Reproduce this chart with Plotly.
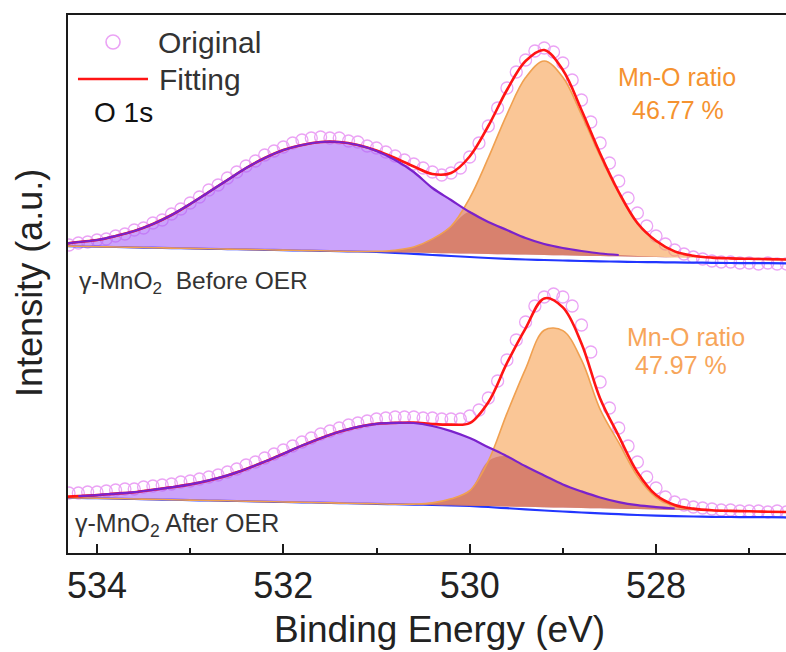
import numpy as np
import plotly.graph_objects as go

# ---- binding energy grids (eV) ----
energy = [
    534.4, 534.3, 534.2, 534.1, 534.0, 533.9, 533.8, 533.7, 533.6, 533.5,
    533.4, 533.3, 533.2, 533.1, 533.0, 532.9, 532.8, 532.7, 532.6, 532.5,
    532.4, 532.3, 532.2, 532.1, 532.0, 531.9, 531.8, 531.7, 531.6, 531.5,
    531.4, 531.3, 531.2, 531.1, 531.0, 530.9, 530.8, 530.7, 530.6, 530.5,
    530.4, 530.3, 530.2, 530.1, 530.0, 529.9, 529.8, 529.7, 529.6, 529.5,
    529.4, 529.3, 529.2, 529.1, 529.0, 528.9, 528.8, 528.7, 528.6, 528.5,
    528.4, 528.3, 528.2, 528.1, 528.0, 527.9, 527.8, 527.7, 527.6, 527.5,
    527.4, 527.3, 527.2, 527.1, 527.0, 526.9, 526.8, 526.7, 526.6,
]
# fitted curves are sampled every 0.2 eV (every other raw point)
energy_fit = energy[::2]

# ---- gamma-MnO2 before OER (offset spectrum, a.u.) ----
before_raw = [
    30.7, 30.8, 31.0, 31.1, 31.3, 31.4, 31.7, 31.9, 32.3, 32.5,
    33.0, 33.3, 33.9, 34.4, 35.0, 35.6, 36.3, 36.8, 37.5, 38.1,
    38.7, 39.2, 39.8, 40.2, 40.6, 41.0, 41.3, 41.5, 41.6, 41.5,
    41.5, 41.2, 41.1, 40.7, 40.5, 40.1, 39.7, 39.3, 38.9, 38.5,
    38.1, 37.8, 38.0, 38.5, 39.6, 41.0, 42.7, 44.5, 46.5, 48.1,
    49.3, 50.2, 50.5, 50.1, 49.0, 47.3, 45.3, 43.1, 41.0, 39.0,
    37.2, 35.5, 34.0, 32.7, 31.7, 30.9, 30.3, 29.9, 29.6, 29.4,
    29.2, 29.1, 29.1, 29.0, 29.0, 28.9, 29.0, 28.9, 28.9,
]
before_base = [
    30.70, 30.67, 30.63, 30.60, 30.56, 30.53, 30.49, 30.46, 30.42, 30.39,
    30.36, 30.32, 30.29, 30.25, 30.22, 30.18, 30.15, 30.11, 30.08, 30.05,
    30.01, 29.98, 29.94, 29.91, 29.87, 29.84, 29.80, 29.77, 29.73, 29.70,
    29.67, 29.63, 29.60, 29.56, 29.53, 29.49, 29.46, 29.42, 29.39, 29.35,
]
before_bg = [
    30.70, 30.67, 30.63, 30.60, 30.56, 30.53, 30.49, 30.46, 30.42, 30.39,
    30.36, 30.32, 30.29, 30.25, 30.22, 30.18, 30.15, 30.10, 30.02, 29.92,
    29.80, 29.70, 29.60, 29.50, 29.42, 29.35, 29.30, 29.25, 29.20, 29.17,
    29.13, 29.10, 29.08, 29.06, 29.04, 29.02, 29.00, 28.99, 28.98, 28.97,
]
before_oh = [
    0.15, 0.43, 0.67, 1.10, 1.64, 2.37, 3.31, 4.44, 5.68, 6.91,
    8.14, 9.18, 10.01, 10.55, 10.88, 10.92, 10.65, 10.09, 9.22, 8.05,
    6.49, 5.32, 4.16, 3.19, 2.43, 1.66, 1.10, 0.73, 0.47, 0.25,
    0.13, 0.07, 0.02, 0.0, 0.0, 0.0, 0.0, 0.0, 0.0, 0.0,
]
before_mno = [
    0.0, 0.0, 0.0, 0.0, 0.0, 0.0, 0.0, 0.0, 0.0, 0.0,
    0.0, 0.0, 0.0, 0.0, 0.0, 0.0, 0.0, 0.05, 0.2, 0.55,
    1.4, 2.7, 5.55, 9.6, 14.0, 17.7, 19.4, 17.8, 14.1, 10.0,
    6.3, 3.3, 1.6, 0.6, 0.2, 0.05, 0.0, 0.0, 0.0, 0.0,
]

# ---- gamma-MnO2 after OER ----
after_raw = [
    5.9, 6.0, 6.0, 6.1, 6.1, 6.2, 6.3, 6.4, 6.4, 6.6,
    6.7, 6.8, 6.9, 7.1, 7.2, 7.4, 7.6, 7.8, 8.1, 8.4,
    8.8, 9.1, 9.5, 9.9, 10.3, 10.7, 11.1, 11.5, 11.9, 12.2,
    12.5, 12.8, 13.0, 13.2, 13.4, 13.5, 13.6, 13.6, 13.6, 13.5,
    13.5, 13.4, 13.4, 13.4, 13.7, 14.3, 15.5, 17.2, 19.3, 21.3,
    23.1, 24.7, 25.6, 25.9, 25.6, 24.7, 22.8, 20.1, 17.1, 14.5,
    12.5, 10.7, 9.1, 7.6, 6.5, 5.6, 5.1, 4.8, 4.6, 4.5,
    4.4, 4.3, 4.3, 4.2, 4.2, 4.2, 4.1, 4.2, 4.1,
]
after_base = [
    5.55, 5.51, 5.48, 5.44, 5.40, 5.36, 5.33, 5.29, 5.25, 5.22,
    5.18, 5.14, 5.10, 5.07, 5.03, 4.99, 4.95, 4.92, 4.88, 4.84,
    4.81, 4.77, 4.73, 4.69, 4.66, 4.62, 4.58, 4.54, 4.51, 4.47,
    4.43, 4.39, 4.36, 4.32, 4.28, 4.25, 4.21, 4.17, 4.13, 4.10,
]
after_bg = [
    5.55, 5.51, 5.48, 5.44, 5.40, 5.36, 5.33, 5.29, 5.25, 5.22,
    5.18, 5.14, 5.10, 5.07, 5.03, 4.99, 4.95, 4.92, 4.88, 4.84,
    4.81, 4.77, 4.70, 4.60, 4.48, 4.36, 4.25, 4.15, 4.05, 3.96,
    3.88, 3.80, 3.74, 3.69, 3.65, 3.62, 3.60, 3.59, 3.58, 3.57,
]
after_oh = [
    0.05, 0.18, 0.31, 0.50, 0.68, 0.96, 1.24, 1.57, 2.01, 2.54,
    3.22, 4.00, 4.83, 5.67, 6.45, 7.13, 7.66, 8.00, 8.13, 8.16,
    7.89, 7.42, 6.76, 5.89, 5.02, 4.05, 3.18, 2.32, 1.65, 1.08,
    0.66, 0.39, 0.23, 0.13, 0.06, 0.02, 0.0, 0.0, 0.0, 0.0,
]
after_mno = [
    0.0, 0.0, 0.0, 0.0, 0.0, 0.0, 0.0, 0.0, 0.0, 0.0,
    0.0, 0.0, 0.0, 0.0, 0.0, 0.0, 0.0, 0.0, 0.0, 0.05,
    0.2, 0.65, 1.5, 4.5, 9.3, 13.8, 17.7, 17.7, 14.8, 9.9,
    6.6, 3.3, 1.2, 0.35, 0.1, 0.0, 0.0, 0.0, 0.0, 0.0,
]

x_ticks = [534, 532, 530, 528]

# ---- styling ----
FONT = "Liberation Sans, Arial, sans-serif"
C_RAW = "#EBA3F5"
C_FIT = "#FF1414"
C_BG = "#2236FF"
C_OH_LINE = "#7A22CC"
C_OH_FILL = "rgba(166,96,248,0.58)"
C_MNO_LINE = "#F0A050"
C_MNO_FILL = "rgba(246,160,80,0.6)"
C_BOTH_FILL = "rgba(207,108,85,0.6)"
C_AXIS = "#1a1a1a"

fig = go.Figure()
ef = np.array(energy_fit)

# raw spectra (open circles) go underneath the fitted areas
for raw in (before_raw, after_raw):
    fig.add_trace(go.Scatter(
        x=energy, y=raw, mode="markers", showlegend=False,
        marker=dict(symbol="circle-open", size=12, color=C_RAW,
                    line=dict(width=1.3, color=C_RAW)),
    ))


def polygon(top, base):
    return (np.concatenate([ef, ef[::-1]]),
            np.concatenate([top, base[::-1]]))


def add_panel(base, bg, oh, mno):
    base = np.array(base)
    bg = np.array(bg)
    oh = np.array(oh)
    mno = np.array(mno)
    oh_top = base + oh
    mno_top = base + mno
    both_top = base + np.minimum(oh, mno)
    envelope = base + oh + mno

    # background
    fig.add_trace(go.Scatter(x=ef, y=bg, mode="lines", showlegend=False,
                             line=dict(color=C_BG, width=2.2, shape="spline")))
    # component areas
    for top, col in ((oh_top, C_OH_FILL), (mno_top, C_MNO_FILL),
                     (both_top, C_BOTH_FILL)):
        px, py = polygon(top, base)
        fig.add_trace(go.Scatter(x=px, y=py, mode="lines", fill="toself",
                                 fillcolor=col, showlegend=False,
                                 line=dict(width=0, shape="spline"),
                                 hoverinfo="skip"))
    # Mn-O component outline
    fig.add_trace(go.Scatter(x=ef, y=mno_top, mode="lines", showlegend=False,
                             line=dict(color=C_MNO_LINE, width=1.6,
                                       shape="spline")))
    # total fit
    fig.add_trace(go.Scatter(x=ef, y=envelope, mode="lines", showlegend=False,
                             line=dict(color=C_FIT, width=2.6,
                                       shape="spline")))
    # hydroxyl / adsorbed-oxygen component outline
    oh_line = [float(v) if h > 0.1 else None for v, h in zip(oh_top, oh)]
    fig.add_trace(go.Scatter(x=ef, y=oh_line, mode="lines", showlegend=False,
                             line=dict(color=C_OH_LINE, width=2.2,
                                       shape="spline")))


add_panel(before_base, before_bg, before_oh, before_mno)
add_panel(after_base, after_bg, after_oh, after_mno)


def note(text, x, y, size, color, anchor="left", angle=0):
    fig.add_annotation(text=text, x=x, y=y, xref="paper", yref="paper",
                       xanchor=anchor, yanchor="middle", showarrow=False,
                       textangle=angle,
                       font=dict(family=FONT, size=size, color=color))


# legend keys
fig.add_shape(type="circle", xref="paper", yref="paper",
              xsizemode="pixel", ysizemode="pixel",
              xanchor=0.0627, yanchor=0.9498, x0=-7, x1=7, y0=-7, y1=7,
              line=dict(color=C_RAW, width=1.6))
fig.add_shape(type="line", xref="paper", yref="paper",
              x0=0.0139, x1=0.1114, y0=0.881, y1=0.881,
              line=dict(color=C_FIT, width=2.6))
note("Original", 0.1226, 0.9498, 30, "#333333")
note("Fitting", 0.124, 0.881, 30, "#333333")
note("O 1s", 0.0334, 0.818, 28, "#111111")

note("Mn-O ratio", 0.8475, 0.8848, 25, "#F5922F", anchor="center")
note("46.77 %", 0.849, 0.8234, 25, "#F5922F", anchor="center")
note("Mn-O ratio", 0.8614, 0.4015, 25, "#F7A55A", anchor="center")
note("47.97 %", 0.8538, 0.3494, 25, "#F7A55A", anchor="center")

note("γ-MnO<sub>2</sub>\u00a0 Before OER", 0.0125, 0.5019, 24.5, "#333333")
note("γ-MnO<sub>2</sub> After OER", 0.007, 0.052, 25, "#333333")

# axis titles
note("Binding Energy (eV)", 0.518, -0.142, 37, "#222222", anchor="center")
note("Intensity (a.u.)", -0.0529, 0.502, 36, "#222222", anchor="center",
     angle=-90)

fig.update_layout(
    width=786, height=652, autosize=False,
    margin=dict(l=68, r=0, t=15, b=99),
    plot_bgcolor="white", paper_bgcolor="white",
    font=dict(family=FONT),
    showlegend=False,
    xaxis=dict(
        range=[534.311, 526.605], showgrid=False, zeroline=False,
        showline=True, linecolor=C_AXIS, linewidth=2, mirror=True,
        ticks="inside", ticklen=9, tickwidth=2, tickcolor=C_AXIS,
        tickmode="array", tickvals=x_ticks,
        tickfont=dict(family=FONT, size=36, color="#222222"),
        minor=dict(ticks="inside", ticklen=5, tickwidth=1.5,
                   tickcolor=C_AXIS, dtick=1, tick0=534),
    ),
    yaxis=dict(
        range=[0, 53.8], showgrid=False, zeroline=False,
        showline=True, linecolor=C_AXIS, linewidth=2,
        ticks="", showticklabels=False,
    ),
)

fig.write_html("out.html")
